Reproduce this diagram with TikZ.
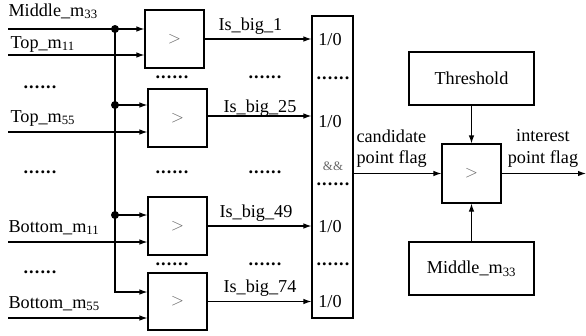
\documentclass[tikz,border=0pt]{standalone}
\usepackage{fontspec}
\setmainfont{Liberation Serif}
\usetikzlibrary{arrows.meta}
\newcommand\sixdots{.\kern1.1pt.\kern1.1pt.\kern1.1pt.\kern1.1pt.\kern1.1pt.}
\begin{document}
\begin{tikzpicture}[x=1pt,y=-1pt,
  line width=1.1pt,
  font=\fontsize{18.2}{21}\selectfont,
  >={Latex[length=8pt,width=5.5pt]},
  cmpbox/.style={draw, minimum width=59pt, minimum height=58pt, inner sep=0pt, text=black!60},
  wide/.style={draw, minimum width=125pt, minimum height=53pt, inner sep=0pt},
  lbl/.style={anchor=base west, inner sep=0pt},
  clbl/.style={anchor=base, inner sep=0pt},
  dotrow/.style={anchor=base, inner sep=0pt, text height=3pt, text depth=0pt, font=\fontsize{18.2}{21}\selectfont\bfseries},
  junction/.style={circle, fill, inner sep=0pt, minimum size=8pt}]
\useasboundingbox (0,0) rectangle (586,335);

% comparators of the first stage
\node[cmpbox] (c1) at (174.5,39) {$>$};
\node[cmpbox] (c2) at (177.5,118) {$>$};
\node[cmpbox] (c3) at (177.5,226) {$>$};
\node[cmpbox, minimum height=57pt] (c4) at (177.5,301.5) {$>$};

% AND block
\node[draw, minimum width=41pt, minimum height=302pt, inner sep=0pt] (andb) at (332.5,167) {};

% final comparison
\node[cmpbox, minimum height=59pt] (fc) at (471.5,173.5) {$>$};
\node[wide] (thr) at (471.5,78.5) {Threshold};
\node[wide] (mid) at (471.5,268.5) {Middle\_m\textsubscript{33}};

% input ends
\coordinate (i1) at (8,29);
\coordinate (i2) at (8,55);
\coordinate (i3) at (8,132);
\coordinate (i4) at (8,242);
\coordinate (i5) at (8,318);
\coordinate (bt) at (115,29);
\coordinate (b2) at (115,105);
\coordinate (b3) at (115,215);
\coordinate (bb) at (115,292);
\coordinate (out) at (586,173.5);

% input lines
\draw[->] (i1) -- (i1 -| c1.west);
\draw[->] (i2) -- (i2 -| c1.west);
\draw[->] (i3) -- (i3 -| c2.west);
\draw[->] (i4) -- (i4 -| c3.west);
\draw[->] (i5) -- (i5 -| c4.west);

% shared centre-value bus
\draw[->] (bt) -- (bb) -- (bb -| c4.west);
\draw[->] (b2) -- (b2 -| c2.west);
\draw[->] (b3) -- (b3 -| c3.west);
\node[junction] at (bt) {};
\node[junction] at (b2) {};
\node[junction] at (b3) {};

% comparator outputs
\draw[->] (c1.east) -- (c1.east -| andb.west);
\draw[->] ([yshift=2pt]c2.east) -- ([yshift=2pt]c2.east -| andb.west);
\draw[->] (c3.east) -- (c3.east -| andb.west);
\draw[->] (c4.east) -- (c4.east -| andb.west);

% second stage
\draw[->] (andb.east |- fc.west) -- (fc.west);
\draw[->] (thr) -- (fc);
\draw[->] (mid) -- (fc);
\draw[->] (fc.east) -- (out);

% input labels
\node[lbl] at (8,16) {Middle\_m\textsubscript{33}};
\node[lbl] at (10,48) {Top\_m\textsubscript{11}};
\node[lbl] at (10,122) {Top\_m\textsubscript{55}};
\node[lbl] at (8,232) {Bottom\_m\textsubscript{11}};
\node[lbl] at (8,308) {Bottom\_m\textsubscript{55}};

% output labels
\node[lbl] at (218,30) {Is\_big\_1};
\node[lbl] at (223,112) {Is\_big\_25};
\node[lbl] at (219,217) {Is\_big\_49};
\node[lbl] at (223,292) {Is\_big\_74};

% AND block contents
\node[inner sep=0pt] at (330,40) {1/0};
\node[inner sep=0pt] at (330,121.5) {1/0};
\node[inner sep=0pt] at (330,226.5) {1/0};
\node[inner sep=0pt] at (330,301.5) {1/0};
\node[anchor=base, inner sep=0pt, text height=9pt, text depth=0pt, text=black!60,
      font=\fontsize{12.9}{14}\selectfont] at (333,170) {\&\&};

% flag labels
\node[lbl] at (356,142) {candidate};
\node[lbl] at (356,163) {point flag};
\node[clbl] at (543,141) {interest};
\node[clbl] at (543,163) {point flag};

% ellipsis rows
\foreach \x/\y in {40/87, 40/172, 40/272,
                   172/77, 172/172, 172/264,
                   265/77, 265/172, 265/264,
                   333/78, 333/184, 333/264}
  \node[dotrow] at (\x,\y+1.5) {\sixdots};
\end{tikzpicture}
\end{document}
